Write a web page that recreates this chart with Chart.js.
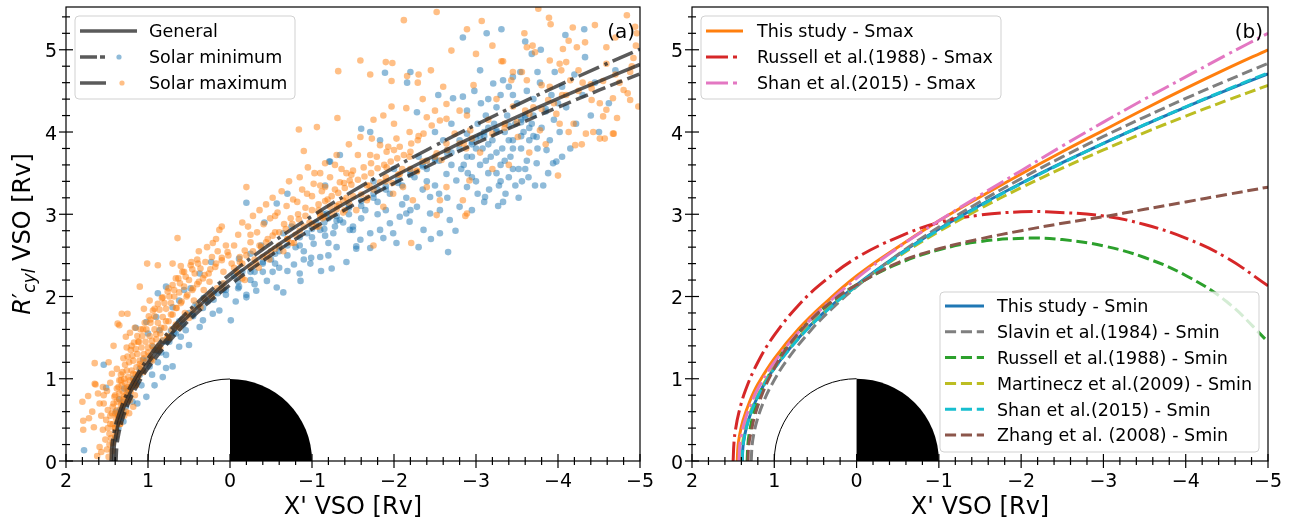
<!DOCTYPE html>
<html>
<head>
<meta charset="utf-8">
<script src="https://cdn.jsdelivr.net/npm/chart.js@4.4.0/dist/chart.umd.min.js"></script>
<style>
  html, body { margin: 0; padding: 0; background: #fff; }
  #wrap { position: relative; width: 1291px; height: 523px; overflow: hidden; }
  #left { position: absolute; left: 0; top: 0; }
  #right { position: absolute; left: 645px; top: 0; }
</style>
</head>
<body>
<div id="wrap">
  <canvas id="left" width="670" height="523"></canvas>
  <canvas id="right" width="646" height="523"></canvas>
</div>
<script>
// ticks
const xTicks = [2, 1, 0, -1, -2, -3, -4, -5];
const yTicks = [0, 1, 2, 3, 4, 5];

// (a) crossings, solar minimum (blue) and solar maximum (orange)
const solarMinPts = [
  [1.78,0.13],[1.54,1.17],[1.51,0.89],[1.39,0.60],[1.40,0.28],[1.36,0.40],[1.30,0.48],[1.33,0.54],[1.27,0.66],[1.35,0.75],
  [1.19,0.72],[1.13,0.70],[1.24,0.80],[1.29,0.88],[1.21,0.90],[1.17,0.95],[1.08,0.92],[1.02,0.78],[1.10,1.05],[0.92,0.92],
  [0.95,1.05],[0.82,1.02],[0.98,1.15],[0.78,1.13],[0.70,1.15],[1.06,1.23],[0.88,1.20],[0.78,1.29],[0.84,1.32],[0.94,1.39],
  [0.62,1.39],[0.50,1.41],[0.74,1.45],[0.60,1.51],[0.66,1.55],[1.00,1.55],[0.54,1.59],[0.86,1.59],[1.15,1.62],[0.37,1.63],
  [1.02,1.69],[0.33,1.71],[0.58,1.72],[0.90,1.75],[0.46,1.78],[0.21,1.79],[0.13,1.83],[0.70,1.87],[0.42,1.90],[0.27,1.94],
  [0.62,1.95],[0.32,1.98],[0.05,2.02],[0.15,2.04],[0.88,2.04],[0.56,2.08],[0.48,2.10],[0.78,2.12],[0.10,2.15],[0.37,2.28],
  [0.23,2.42],[-0.01,1.71],
  [1.38,0.45],[1.34,0.62],[1.30,0.72],[1.24,0.86],[1.18,1.00],[1.10,1.12],[1.02,1.22],[0.92,1.35],[0.82,1.46],[0.72,1.58],
  [0.62,1.70],[0.50,1.80],[0.40,1.88],[0.30,1.96],[0.20,2.04],[0.08,2.08],
  [1.30,0.60],[1.22,0.78],[1.14,0.95],[1.06,1.10],[0.97,1.22],[0.88,1.34],[0.78,1.45],[0.68,1.56],[0.57,1.66],[0.45,1.76],
  [0.33,1.86],[0.20,1.96],[0.05,2.08],[-0.10,2.18],[-0.25,2.30],[-0.40,2.42],[-0.55,2.52],[-0.70,2.62],[-0.85,2.72],[-1.00,2.82],
  [-1.15,2.90],[-1.30,2.98],[-1.45,3.08],[-1.60,3.16],[-1.75,3.25],[-1.90,3.34],[-2.05,3.42],[-2.20,3.52],[-2.35,3.60],[-2.50,3.66],
  [-2.65,3.74],[-2.80,3.80],[-2.95,3.88],[-3.10,3.95],[-3.25,4.02],[-3.40,4.08],[-3.55,4.12],[-3.70,4.20],[-3.85,4.28],[-4.00,4.35],
  [-0.60,2.60],[-1.20,2.95],[-1.80,3.30],[-2.40,3.65],[-3.00,3.92],[-3.60,4.18],
  [-0.07,1.94],[-0.20,2.02],[-0.11,2.12],[-0.11,2.46],[-0.20,1.99],[-0.32,2.07],[-0.45,2.19],[-0.57,2.11],[-0.70,2.31],[-0.78,2.39],
  [-0.86,2.19],[-0.99,2.47],[-1.11,2.31],[-0.94,2.77],[-0.65,2.77],[-1.14,3.00],[-0.70,3.25],[-0.57,3.13],[-0.20,3.14],[-1.21,3.64],
  [-0.85,2.28],[-0.98,2.40],[-1.10,2.48],[-1.24,2.34],[-1.42,2.42],[-1.54,2.58],[-1.02,2.64],[-1.16,2.74],[-1.50,2.81],[-1.34,3.72],
  [-1.22,3.64],[-1.16,3.35],[-0.30,2.30],[-0.40,2.40],[-0.50,2.45],[-0.60,2.55],[-0.38,2.62],[-0.25,2.52],[-0.15,2.30],[-0.05,2.25],
  [-0.80,2.60],[-0.90,2.55],[-1.30,2.60],[-1.38,2.90],[-1.28,2.85],[-0.75,2.85],[-1.05,2.90],[-1.45,3.10],[-0.52,2.30],[-0.65,2.05],
  [-1.20,2.50],[-0.42,2.90],
  [-0.10,2.10],[-0.25,2.20],[-0.40,2.30],[-0.55,2.40],[-0.70,2.50],[-0.85,2.62],[-1.00,2.72],[-1.15,2.82],[-1.30,2.92],[-1.45,3.00],
  [-1.60,3.10],[-1.75,3.20],[-1.90,3.30],[-2.05,3.38],[-2.20,3.48],[-2.35,3.58],[-2.50,3.68],[-2.65,3.78],[-0.30,2.15],[-0.60,2.35],
  [-0.90,2.45],[-1.20,2.65],[-1.50,2.85],[-1.80,3.00],[-2.10,3.12],[-2.40,3.40],[-2.70,3.60],[-2.20,3.05],[-2.55,3.25],
  [-1.60,4.04],[-1.71,4.00],[-1.83,3.90],[-2.20,4.73],[-2.16,4.60],[-1.89,4.72],[-2.84,5.15],[-2.54,4.45],[-2.72,4.41],[-2.84,4.43],
  [-2.89,4.26],[-2.28,4.24],[-1.18,3.01],[-1.34,2.93],[-1.46,2.81],[-1.59,2.69],[-1.71,2.77],[-1.83,2.81],[-1.95,2.89],[-2.07,2.97],
  [-1.99,2.77],[-2.15,3.01],[-2.28,3.09],[-2.44,3.01],[-2.56,3.05],[-2.68,2.93],[-2.44,3.21],[-1.26,2.77],[-1.10,2.81],[-1.54,2.61],
  [-1.71,2.59],[-1.87,2.71],[-2.03,2.65],[-2.19,2.91],[-2.36,2.81],[-2.56,2.77],[-2.80,3.09],[-2.89,3.33],[-2.76,3.41],[-2.64,3.49],
  [-2.82,3.55],[-2.89,3.70],[-2.89,3.98],[-2.80,3.90],[-2.66,2.54],[-1.65,3.05],[-1.80,3.15],[-1.95,3.25],[-2.10,3.35],[-2.25,3.45],
  [-2.40,3.55],[-2.55,3.65],[-2.70,3.75],[-1.75,3.40],[-2.00,3.55],[-2.30,3.70],[-2.60,3.90],[-2.70,4.10],[-2.50,4.00],[-2.35,3.30],
  [-2.50,3.35],[-2.65,3.20],[-2.15,3.20],[-1.90,3.05],[-1.60,2.95],[-2.45,2.70],[-2.30,2.60],[-2.75,2.80],[-2.95,3.05],[-2.95,3.45],
  [-3.13,5.20],[-3.31,5.25],[-3.68,4.95],[-3.79,5.00],[-4.09,5.18],[-4.32,5.25],[-4.33,4.91],[-3.54,4.73],[-3.75,4.73],[-3.96,4.73],
  [-3.21,4.59],[-3.33,4.63],[-3.45,4.67],[-3.74,3.94],[-3.86,3.78],[-3.94,3.62],[-3.98,3.64],[-3.72,3.35],[-3.33,3.15],[-3.27,3.10],
  [-3.11,3.21],[-3.82,3.35],[-3.74,3.62],
  [-3.00,3.40],[-3.05,3.60],[-3.08,3.80],[-3.10,4.00],[-3.12,4.20],[-3.15,3.50],[-3.18,3.70],[-3.20,3.90],[-3.22,4.10],[-3.25,4.30],
  [-3.28,3.35],[-3.30,3.60],[-3.32,3.80],[-3.35,4.00],[-3.38,4.20],[-3.40,3.45],[-3.42,3.70],[-3.45,3.90],[-3.48,4.10],[-3.50,4.35],
  [-3.52,3.55],[-3.55,3.80],[-3.58,4.00],[-3.60,4.20],[-3.62,3.65],[-3.65,3.90],[-3.68,4.10],[-3.70,4.40],[-3.02,3.25],[-3.06,4.35],
  [-3.16,3.30],[-3.36,3.25],[-3.48,3.35],[-3.56,3.40],[-3.64,3.45],[-3.80,4.05],[-3.85,4.25],[-3.90,3.90],[-3.95,4.15],[-4.02,4.00],
  [-4.10,4.30],[-4.15,3.80],[-4.22,4.10],[-4.30,4.45],[-4.40,4.20],[-4.05,4.55],[-3.92,4.45],[-3.78,4.60],[-3.62,4.50],[-3.45,4.45],
  [-3.30,4.45],[-3.15,4.40],[-2.98,4.50],[-3.05,4.75],[-3.60,5.10],[-4.20,4.70],[-4.45,4.60],[-4.50,4.00],[-4.62,4.35],[-4.70,4.75],
  [-3.88,3.50],[-4.05,3.70],[-3.25,3.50],[-3.12,3.65],[-3.40,4.55],[-2.95,3.85],[-3.02,4.10],[-3.10,3.15],[-3.52,3.20],
  [-2.85,3.60],[-2.95,3.70],[-3.05,3.95],[-3.15,3.85],[-3.25,3.75],[-3.35,3.65],[-3.45,3.55],[-3.55,4.15],[-3.65,4.05],[-3.75,3.80],
  [-3.25,4.00],[-3.40,3.90],[-3.55,3.95],[-3.15,4.05],[-2.90,3.50],[-3.00,3.80],[-3.30,3.40],[-3.45,3.80],[-3.60,3.55],[-3.70,3.95]
];
const solarMaxPts = [
  [1.80,0.72],[1.79,0.49],[1.79,0.38],[1.72,0.52],[1.73,0.79],[1.64,0.93],[1.61,0.82],[1.59,0.70],[1.59,0.17],[1.57,0.11],
  [1.62,0.06],[1.55,0.38],[1.51,0.50],[1.49,0.62],[1.52,0.26],[1.50,0.14],[1.47,0.33],[1.46,0.45],[1.44,0.58],[1.42,0.70],
  [1.40,0.80],[1.38,0.62],[1.36,0.90],[1.35,0.75],[1.33,0.98],[1.31,0.85],[1.30,0.70],[1.28,0.95],[1.27,0.60],[1.25,0.82],
  [1.24,1.02],[1.22,0.74],[1.20,0.92],[1.18,0.66],[1.43,0.22],[1.41,0.40],[1.39,0.52],[1.34,0.45],[1.29,0.78],[1.26,0.88],
  [1.23,0.58],[1.55,0.90],[1.50,0.85],[1.46,0.95],[1.68,0.60],[1.66,0.41],[1.57,0.55],[1.54,0.70],[1.65,0.94],[1.54,0.80],
  [1.48,0.05],[1.44,0.12],[1.39,0.35],[1.37,0.48],[1.32,0.62],[1.29,0.55],[1.21,0.85],[1.16,0.80],[1.15,0.92],
  [1.47,0.20],[1.45,0.28],[1.49,0.40],[1.43,0.45],[1.46,0.55],[1.40,0.58],[1.43,0.66],[1.38,0.72],[1.41,0.78],[1.35,0.82],
  [1.38,0.88],[1.32,0.92],[1.35,0.98],[1.29,1.00],[1.31,1.08],[1.26,1.10],[1.28,1.17],[1.23,1.20],[1.25,1.27],[1.19,1.28],
  [1.21,1.35],[1.15,1.36],[1.17,1.44],[1.11,1.45],[1.13,1.52],[1.07,1.52],[1.09,1.60],[1.02,1.60],[1.04,1.68],[0.97,1.68],
  [0.99,1.76],[0.92,1.76],[0.94,1.83],[0.86,1.84],[0.88,1.91],[0.80,1.92],[0.82,1.99],[0.74,2.00],[0.76,2.06],[0.68,2.08],
  [0.70,2.14],[0.61,2.16],[0.63,2.22],[0.54,2.24],[0.56,2.30],[0.46,2.33],[0.48,2.38],[0.39,2.40],
  [1.40,0.30],[1.37,0.55],[1.33,0.68],[1.30,0.75],[1.25,0.90],[1.22,0.98],[1.18,1.06],[1.14,1.14],[1.10,1.22],[1.05,1.30],
  [1.00,1.38],[0.95,1.46],[0.90,1.54],[0.84,1.62],[0.78,1.70],[0.72,1.78],[0.66,1.86],[0.59,1.94],[0.52,2.02],[0.45,2.10],
  [0.38,2.18],[0.31,2.26],[0.24,2.33],[0.17,2.40],[0.10,2.47],[0.03,2.54],
  [1.40,0.40],[1.36,0.55],[1.31,0.68],[1.27,0.80],[1.22,0.88],[1.17,0.97],[1.12,1.05],[1.08,1.15],[1.03,1.20],[0.98,1.28],
  [0.93,1.35],[0.87,1.40],[0.82,1.47],[0.76,1.52],[0.71,1.60],[0.65,1.64],[0.58,1.72],[0.52,1.78],[0.45,1.84],[0.38,1.90],
  [0.31,1.97],[0.24,2.03],[0.16,2.10],[0.08,2.16],[1.34,0.45],[1.25,0.72],[1.15,0.92],[1.06,1.08],[0.96,1.24],[0.85,1.38],
  [0.74,1.50],[0.62,1.62],[0.50,1.74],[0.36,1.87],[0.22,2.00],[0.10,2.10],
  [-0.10,2.28],[-0.25,2.36],[-0.40,2.48],[-0.55,2.58],[-0.70,2.70],[-0.85,2.80],[-1.00,2.88],[-1.15,2.97],[-1.30,3.06],[-1.45,3.14],
  [-1.60,3.24],[-1.75,3.30],[-1.90,3.40],[-2.05,3.48],[-2.20,3.55],[-2.35,3.64],[-2.50,3.70],[-2.65,3.78],[-2.80,3.86],[-2.95,3.92],
  [-0.18,2.20],[-0.48,2.45],[-0.78,2.65],[-1.08,2.85],[-1.38,3.02],[-1.68,3.20],[-1.98,3.38],[-2.28,3.52],[-2.58,3.66],[-2.88,3.80],
  [-3.20,3.98],[-3.50,4.12],[-3.80,4.28],[-4.10,4.45],[-4.40,4.58],[-4.70,4.70],[-4.90,4.80],[-3.35,4.10],[-3.65,4.22],[-3.95,4.35],
  [-4.25,4.50],[-4.55,4.62],
  [1.35,1.65],[1.25,1.79],[1.27,1.51],[1.22,1.56],[1.01,2.40],[0.64,2.71],[0.60,2.37],[0.21,2.65],[0.13,2.81],[1.65,1.19],
  [1.37,1.67],[1.32,1.79],[1.10,2.12],[0.88,2.38],[0.10,2.85],
  [1.20,1.10],[1.18,1.22],[1.15,1.05],[1.13,1.30],[1.10,1.18],[1.08,1.38],[1.05,1.25],[1.03,1.45],[1.00,1.32],[0.98,1.52],
  [0.95,1.40],[0.92,1.60],[0.90,1.48],[0.88,1.68],[0.85,1.55],[0.82,1.75],[0.80,1.62],[0.78,1.85],[0.75,1.70],[0.72,1.92],
  [0.70,1.78],[0.68,2.00],[0.65,1.86],[0.62,2.05],[0.60,1.92],[0.56,2.12],[0.53,2.00],[0.50,2.20],[0.46,2.08],[0.43,2.28],
  [0.40,2.15],[0.36,2.34],[0.33,2.22],[0.30,2.42],[0.26,2.28],[0.22,2.48],[0.18,2.36],[0.15,2.55],[0.10,2.44],[0.05,2.62],
  [0.02,2.50],[1.12,1.45],[1.06,1.60],[0.97,1.72],[0.92,1.85],[0.83,1.98],[0.75,2.10],[0.66,2.22],[0.58,2.30],[0.47,2.42],
  [0.38,2.55],[0.28,2.60],[0.17,2.70],[1.30,1.25],[1.26,1.38],[1.16,1.62],[1.05,1.85],[1.44,1.06],[1.38,1.12],[1.33,1.05],
  [1.17,0.98],[1.12,1.02],[1.08,1.10],[0.95,1.22],[0.87,1.35],[0.76,1.50],[0.66,1.66],[0.55,1.80],[0.44,1.95],[0.32,2.08],
  [1.48,1.20],[1.42,1.40],[1.20,1.40],[0.98,1.95],[0.70,2.40],[0.40,2.45],[0.08,2.30],[0.25,2.18],
  [-0.02,2.40],[-0.05,2.62],[-0.08,2.30],[-0.10,2.75],[-0.12,2.48],[-0.15,2.90],[-0.18,2.56],[-0.20,3.33],[-0.22,2.85],[-0.25,2.66],
  [-0.28,2.98],[-0.30,2.45],[-0.33,2.78],[-0.36,3.05],[-0.38,2.60],[-0.41,2.88],[-0.44,3.12],[-0.46,2.70],[-0.49,2.95],[-0.52,3.20],
  [-0.55,2.78],[-0.58,3.02],[-0.60,2.62],[-0.63,3.28],[-0.66,2.88],[-0.69,3.10],[-0.72,3.40],[-0.74,2.95],[-0.77,3.18],[-0.80,2.75],
  [-0.83,3.00],[-0.85,3.45],[-0.88,3.30],[-0.90,3.77],[-0.92,3.08],[-0.95,3.57],[-0.97,2.90],[-1.00,3.22],[-1.03,3.50],[-1.06,4.06],
  [-0.84,4.03],[-1.08,3.05],[-1.10,3.35],[-1.13,2.95],[-1.16,3.62],[-1.19,3.18],[-1.22,3.45],[-1.25,3.00],[-1.28,3.30],[-1.30,3.72],
  [-1.33,3.12],[-1.36,3.55],[-1.39,3.38],[-1.42,3.20],[-1.45,3.85],[-1.48,3.48],[-0.35,2.35],[-0.65,2.55],[-1.05,2.85],[-1.40,3.05],
  [-1.31,4.17],[-0.94,3.25],[-1.02,3.37],[-1.16,3.33],[-1.34,3.39],[-1.28,3.60],[-1.10,3.50],[-1.22,3.09],[-1.10,3.01],[-1.38,3.17],
  [-0.15,2.40],[-0.45,2.50],[-0.75,2.65],
  [-0.05,2.35],[-0.12,2.42],[-0.20,2.50],[-0.28,2.55],[-0.36,2.62],[-0.44,2.66],[-0.52,2.74],[-0.60,2.78],[-0.68,2.82],[-0.76,2.88],
  [-0.84,2.94],[-0.92,2.98],[-1.00,3.05],[-1.08,3.12],[-1.16,3.16],[-1.24,3.22],[-1.32,3.26],[-1.40,3.32],[-1.48,3.36],[-1.56,3.42],
  [-1.64,3.46],[-1.72,3.50],[-1.80,3.56],[-1.88,3.60],[-1.96,3.64],[-2.04,3.68],[-2.12,3.72],[-2.20,3.76],[-0.15,2.22],[-0.32,2.40],
  [-0.50,2.55],[-0.70,2.70],[-0.90,2.85],[-1.10,2.98],[-1.30,3.10],[-1.50,3.22],[-1.70,3.35],[-1.90,3.45],[-2.10,3.55],[-0.25,2.75],
  [-0.55,2.98],[-0.82,3.15],[-1.12,3.28],[-1.42,3.50],[-1.72,3.62],[-2.00,3.78],[-2.30,3.95],
  [-1.59,4.87],[-1.32,4.74],[-1.71,4.70],[-1.90,4.85],[-1.98,4.84],[-1.97,4.62],[-2.16,4.68],[-2.30,4.70],[-2.29,4.60],[-2.52,5.46],
  [-2.12,5.36],[-2.70,4.99],[-2.89,5.25],[-1.97,4.31],[-1.87,4.20],[-2.15,4.29],[-2.40,4.18],[-2.50,4.26],[-2.64,4.34],[-2.80,4.26],
  [-2.89,4.20],[-2.64,4.16],[-1.59,3.94],[-1.73,3.92],[-1.83,3.84],[-1.93,3.82],[-2.03,3.92],[-2.19,4.00],[-2.29,3.90],[-1.56,3.72],
  [-1.71,3.72],[-1.50,3.53],[-1.63,3.57],[-1.79,3.70],[-1.91,3.76],[-2.07,3.82],[-2.21,3.86],[-2.36,3.98],[-2.46,4.08],[-2.56,4.14],
  [-1.91,3.57],[-2.07,3.49],[-2.19,3.70],[-2.28,3.53],[-2.40,3.65],[-2.52,3.74],[-2.64,3.86],[-2.74,3.98],[-1.46,3.41],[-1.67,3.35],
  [-1.83,3.39],[-1.99,3.25],[-2.11,3.33],[-2.23,3.17],[-2.40,3.33],[-2.56,3.17],[-1.87,3.09],[-1.67,3.17],[-1.54,3.05],[-2.64,3.33],
  [-2.84,3.17],[-2.89,3.01],[-2.21,2.65],[-1.75,2.62],[-2.52,2.99],[-2.87,2.98],[-2.97,4.57],[-2.93,4.02],[-2.85,3.86],[-2.92,3.41],
  [-2.00,4.10],[-2.35,4.40],[-1.75,4.15],[-2.60,4.55],[-2.45,4.75],
  [-3.07,5.35],[-3.31,4.86],[-3.59,5.20],[-3.69,5.05],[-3.76,5.50],[-3.89,5.39],[-3.91,5.31],[-4.18,5.27],[-4.13,5.11],[-4.33,5.09],
  [-4.23,5.03],[-4.06,5.01],[-4.10,4.85],[-4.59,5.03],[-4.84,5.42],[-4.94,5.28],[-4.59,4.83],[-4.88,4.73],[-4.02,4.83],[-3.90,4.87],
  [-3.62,5.03],[-3.72,4.97],[-3.33,4.86],[-3.45,4.73],[-3.56,4.73],[-3.62,4.63],[-3.80,4.57],[-3.90,4.55],[-4.04,4.75],[-4.15,4.63],
  [-4.25,4.75],[-4.41,4.53],[-4.41,4.39],[-4.51,4.35],[-4.59,4.27],[-4.67,4.41],[-4.80,4.51],[-4.88,4.39],[-4.98,4.31],[-4.55,4.19],
  [-4.67,3.98],[-4.51,3.92],[-4.34,3.98],[-4.21,3.84],[-4.00,3.47],[-3.43,4.63],[-4.19,4.10],[-4.02,4.10],[-4.13,4.00],[-3.78,4.02],
  [-3.88,4.39],[-3.98,4.22],[-3.60,4.26],[-3.45,4.31],[-3.51,3.94],[-4.96,5.20],[-4.85,4.47],[-4.72,4.17],[-4.68,3.98],[-4.57,3.92],
  [-4.43,4.00],[-4.29,3.85],[-3.25,4.40],[-3.15,4.15],[-3.35,4.05],[-3.70,4.30],[-3.05,3.75],[-3.20,3.55],[-3.40,3.60],[-3.65,3.75],
  [-3.85,3.85],[-4.05,4.45],[-4.30,4.60],[-4.75,4.60],[-4.92,4.90],[-4.70,5.15],[-3.00,4.95],[-3.20,5.05],[-4.45,5.30],[-4.95,5.05]
];

// (a) fitted bow shock curves
const generalX = [1.42, 1.41, 1.39, 1.35, 1.27, 1.17, 1.00, 0.70, 0.40, 0, -0.5, -1, -1.5, -2, -2.5, -3, -3.5, -4, -4.5, -5];
const generalY = [0, 0.198, 0.326, 0.491, 0.715, 0.921, 1.193, 1.564, 1.864, 2.204, 2.570, 2.894, 3.188, 3.460, 3.715, 3.956, 4.185, 4.405, 4.617, 4.821];
const minFitX = [1.45, 1.44, 1.42, 1.38, 1.30, 1.20, 1.00, 0.70, 0.40, 0, -0.5, -1, -1.5, -2, -2.5, -3, -3.5, -4, -4.5, -5];
const minFitY = [0, 0.186, 0.322, 0.492, 0.721, 0.932, 1.252, 1.622, 1.924, 2.270, 2.645, 2.978, 3.283, 3.567, 3.834, 4.088, 4.330, 4.564, 4.789, 5.008];
const maxFitX = [1.39, 1.38, 1.36, 1.32, 1.24, 1.14, 1.00, 0.70, 0.40, 0, -0.5, -1, -1.5, -2, -2.5, -3, -3.5, -4, -4.5, -5];
const maxFitY = [0, 0.180, 0.312, 0.477, 0.699, 0.902, 1.128, 1.502, 1.803, 2.140, 2.502, 2.821, 3.110, 3.377, 3.627, 3.863, 4.087, 4.302, 4.508, 4.708];

// (b) model comparison
const thisMaxX = [1.45, 1.44, 1.42, 1.38, 1.30, 1.20, 1.00, 0.70, 0.40, 0, -0.5, -1, -1.5, -2, -2.5, -3, -3.5, -4, -4.5, -5];
const thisMaxY = [0, 0.186, 0.322, 0.492, 0.721, 0.932, 1.245, 1.610, 1.905, 2.250, 2.600, 2.920, 3.210, 3.490, 3.760, 4.020, 4.280, 4.530, 4.770, 5.000];
const russellMaxX = [1.50, 1.49, 1.47, 1.43, 1.35, 1.20, 1.00, 0.70, 0.40, 0, -0.5, -1, -1.5, -2, -2.3, -3, -3.5, -4, -4.5, -5];
const russellMaxY = [0, 0.22, 0.39, 0.59, 0.86, 1.20, 1.53, 1.90, 2.18, 2.47, 2.72, 2.90, 2.99, 3.03, 3.03, 2.98, 2.875, 2.71, 2.47, 2.13];
const shanMaxX = [1.43, 1.42, 1.40, 1.36, 1.28, 1.18, 1.00, 0.70, 0.40, 0, -0.5, -1, -1.5, -2, -2.5, -3, -3.5, -4, -4.5, -5];
const shanMaxY = [0, 0.180, 0.314, 0.481, 0.706, 0.914, 1.200, 1.570, 1.872, 2.220, 2.590, 2.920, 3.230, 3.530, 3.830, 4.120, 4.400, 4.670, 4.940, 5.200];
const thisMinX = [1.39, 1.38, 1.36, 1.32, 1.24, 1.14, 1.00, 0.70, 0.40, 0, -0.5, -1, -1.5, -2, -2.5, -3, -3.5, -4, -4.5, -5];
const thisMinY = [0, 0.180, 0.312, 0.477, 0.699, 0.902, 1.128, 1.502, 1.803, 2.140, 2.502, 2.821, 3.110, 3.377, 3.627, 3.863, 4.087, 4.302, 4.508, 4.708];
const slavinX = [1.28, 1.27, 1.25, 1.21, 1.13, 1.03, 0.85, 0.55, 0.30, 0, -0.5, -1, -1.5, -2, -2.5, -3, -3.5, -4, -4.5, -5];
const slavinY = [0, 0.186, 0.322, 0.492, 0.721, 0.931, 1.222, 1.596, 1.851, 2.120, 2.507, 2.846, 3.152, 3.434, 3.697, 3.946, 4.182, 4.408, 4.625, 4.835];
const russellMinX = [1.33, 1.32, 1.30, 1.26, 1.18, 1.05, 0.85, 0.55, 0.25, 0, -0.5, -1, -1.5, -2.1, -2.5, -3, -3.5, -4, -4.5, -5];
const russellMinY = [0, 0.207, 0.358, 0.545, 0.793, 1.072, 1.383, 1.721, 1.974, 2.143, 2.397, 2.567, 2.668, 2.710, 2.692, 2.615, 2.474, 2.256, 1.936, 1.450];
const martineczX = [1.40, 1.39, 1.37, 1.33, 1.25, 1.15, 1.00, 0.70, 0.40, 0, -0.5, -1, -1.5, -2, -2.5, -3, -3.5, -4, -4.5, -5];
const martineczY = [0, 0.177, 0.310, 0.475, 0.696, 0.899, 1.137, 1.505, 1.799, 2.129, 2.482, 2.790, 3.068, 3.323, 3.560, 3.782, 3.993, 4.193, 4.384, 4.567];
const shanMinX = [1.391, 1.38, 1.36, 1.32, 1.24, 1.14, 1.00, 0.70, 0.40, 0, -0.5, -1, -1.5, -2, -2.5, -3, -3.5, -4, -4.5, -5];
const shanMinY = [0, 0.190, 0.317, 0.478, 0.696, 0.898, 1.122, 1.494, 1.793, 2.130, 2.492, 2.812, 3.102, 3.371, 3.623, 3.861, 4.089, 4.306, 4.516, 4.719];
const zhangX = [1.32, 1.31, 1.28, 1.24, 1.16, 1.04, 0.85, 0.55, 0.25, 0, -0.5, -1, -1.5, -2, -2.5, -3, -3.5, -4, -4.5, -5];
const zhangY = [0, 0.20, 0.36, 0.54, 0.78, 1.05, 1.37, 1.72, 1.98, 2.14, 2.41, 2.58, 2.70, 2.80, 2.89, 2.97, 3.06, 3.15, 3.24, 3.33];

const FONT = '"DejaVu Sans", sans-serif';
const dashed = [11.1, 4.8];
const dashDot = [19.2, 4.8, 3, 4.8];
const darkLine = 'rgba(35,35,35,0.75)';
const minDot = 'rgba(31,119,180,0.5)';
const maxDot = 'rgba(255,127,14,0.5)';

const toPts = (xs, ys) => xs.map((x, i) => ({ x: x, y: ys[i] }));
const toObj = arr => arr.map(p => ({ x: p[0], y: p[1] }));
const fmt = v => (v < 0 ? '\u2212' + Math.abs(v) : String(v));

function curve(label, xs, ys, color, width, dash, order) {
    return {
        label: label, data: toPts(xs, ys), showLine: true,
        borderColor: color, backgroundColor: color, borderWidth: width,
        borderDash: dash, borderCapStyle: 'butt', tension: 0.4,
        pointRadius: 0, pointHoverRadius: 0, fill: false, order: order
    };
}

function roundBox(ctx, x, y, w, h, r) {
    ctx.beginPath();
    ctx.moveTo(x + r, y);
    ctx.lineTo(x + w - r, y); ctx.arcTo(x + w, y, x + w, y + r, r);
    ctx.lineTo(x + w, y + h - r); ctx.arcTo(x + w, y + h, x + w - r, y + h, r);
    ctx.lineTo(x + r, y + h); ctx.arcTo(x, y + h, x, y + h - r, r);
    ctx.lineTo(x, y + r); ctx.arcTo(x, y, x + r, y, r);
    ctx.closePath();
}

function drawLegend(ctx, a, lg) {
    const x = lg.anchor === 'br' ? a.right - lg.dx - lg.w : a.left + lg.dx;
    const y = lg.anchor === 'br' ? a.bottom - lg.dy - lg.h : a.top + lg.dy;
    ctx.save();
    roundBox(ctx, x, y, lg.w, lg.h, 4);
    ctx.fillStyle = 'rgba(255,255,255,0.8)';
    ctx.fill();
    ctx.strokeStyle = 'rgba(204,204,204,0.9)';
    ctx.lineWidth = 1;
    ctx.stroke();
    lg.rows.forEach((row, i) => {
        const cy = y + lg.first + i * lg.step;
        ctx.save();
        ctx.strokeStyle = row.color;
        ctx.lineWidth = row.width;
        ctx.lineCap = 'butt';
        ctx.setLineDash(row.dash || []);
        ctx.beginPath();
        ctx.moveTo(x + lg.hx, cy);
        ctx.lineTo(x + lg.hx + row.len, cy);
        ctx.stroke();
        ctx.restore();
        if (row.marker) {
            ctx.beginPath();
            ctx.arc(x + row.mx, cy, 2.6, 0, Math.PI * 2);
            ctx.fillStyle = row.marker;
            ctx.fill();
        }
        ctx.fillStyle = '#000';
        ctx.font = '17.5px ' + FONT;
        ctx.textAlign = 'left';
        ctx.textBaseline = 'alphabetic';
        ctx.fillText(row.label, x + lg.tx, cy + 6.4);
    });
    ctx.restore();
}

const panelDecor = {
    id: 'panelDecor',
    beforeDatasetsDraw(chart) {
        // Venus: dayside white, nightside black
        const { ctx, chartArea: a, scales: { x, y } } = chart;
        const cx = x.getPixelForValue(0), cy = y.getPixelForValue(0);
        const r = Math.abs(x.getPixelForValue(1) - cx);
        ctx.save();
        ctx.beginPath();
        ctx.rect(a.left, a.top, a.right - a.left, a.bottom - a.top);
        ctx.clip();
        ctx.beginPath();
        ctx.moveTo(cx, cy);
        ctx.arc(cx, cy, r, Math.PI, 1.5 * Math.PI);
        ctx.closePath();
        ctx.fillStyle = '#fff';
        ctx.fill();
        ctx.beginPath();
        ctx.arc(cx, cy, r, Math.PI, 1.5 * Math.PI);
        ctx.strokeStyle = '#000';
        ctx.lineWidth = 1;
        ctx.stroke();
        ctx.beginPath();
        ctx.moveTo(cx, cy);
        ctx.arc(cx, cy, r, 1.5 * Math.PI, 2 * Math.PI);
        ctx.closePath();
        ctx.fillStyle = '#000';
        ctx.fill();
        ctx.restore();
    },
    afterDatasetsDraw(chart, args, opts) {
        const { ctx, chartArea: a } = chart;
        opts.legends.forEach(lg => drawLegend(ctx, a, lg));
        ctx.save();
        ctx.fillStyle = '#000';
        ctx.font = '20px ' + FONT;
        ctx.textAlign = 'right';
        ctx.fillText(opts.tag, a.right - 5, a.top + 31);
        ctx.restore();
    },
    afterDraw(chart, args, opts) {
        const { ctx, chartArea: a, scales: { x, y } } = chart;
        ctx.save();
        ctx.strokeStyle = '#000';
        ctx.lineWidth = 1.2;
        ctx.strokeRect(a.left, a.top, a.right - a.left, a.bottom - a.top);
        // minor ticks every 0.2
        for (let k = -25; k <= 10; k++) {
            if (k % 5 === 0) continue;
            const px = x.getPixelForValue(k / 5);
            ctx.beginPath(); ctx.moveTo(px, a.bottom - 4); ctx.lineTo(px, a.bottom + 4); ctx.stroke();
        }
        for (let k = 1; k <= 27; k++) {
            if (k % 5 === 0) continue;
            const py = y.getPixelForValue(k / 5);
            ctx.beginPath(); ctx.moveTo(a.left - 4, py); ctx.lineTo(a.left + 4, py); ctx.stroke();
        }
        ctx.font = '19px ' + FONT;
        ctx.fillStyle = '#000';
        ctx.textAlign = 'center';
        xTicks.forEach(v => {
            const px = x.getPixelForValue(v);
            ctx.beginPath(); ctx.moveTo(px, a.bottom - 7); ctx.lineTo(px, a.bottom + 7); ctx.stroke();
            ctx.fillText(fmt(v), px, a.bottom + 26);
        });
        ctx.textAlign = 'right';
        yTicks.forEach(v => {
            const py = y.getPixelForValue(v);
            ctx.beginPath(); ctx.moveTo(a.left - 7, py); ctx.lineTo(a.left + 7, py); ctx.stroke();
            ctx.fillText(fmt(v), a.left - 9, py + 7.5);
        });
        // axis titles
        ctx.font = '24px ' + FONT;
        ctx.textAlign = 'center';
        ctx.fillText("X' VSO [Rv]", (a.left + a.right) / 2, a.bottom + 53);
        if (opts.yTitle) {
            const parts = [
                { t: 'R', f: 'italic 24px ' + FONT, dy: 0 },
                { t: '\u2032', f: '24px ' + FONT, dy: 0 },
                { t: 'cyl', f: 'italic 17px ' + FONT, dy: 5 },
                { t: ' VSO [Rv]', f: '24px ' + FONT, dy: 0 }
            ];
            let total = 0;
            parts.forEach(p => { ctx.font = p.f; p.w = ctx.measureText(p.t).width; total += p.w; });
            ctx.translate(a.left - 36.5, (a.top + a.bottom) / 2);
            ctx.rotate(-Math.PI / 2);
            ctx.textAlign = 'left';
            let cx = -total / 2;
            parts.forEach(p => { ctx.font = p.f; ctx.fillText(p.t, cx, p.dy); cx += p.w; });
        }
        ctx.restore();
    }
};

function baseOptions(pad, decor) {
    return {
        responsive: false,
        animation: false,
        devicePixelRatio: 1,
        layout: { padding: pad },
        events: [],
        plugins: { legend: { display: false }, tooltip: { enabled: false }, panelDecor: decor },
        scales: {
            x: { type: 'linear', min: -5, max: 2, reverse: true, display: false },
            y: { type: 'linear', min: 0, max: 5.52, display: false }
        }
    };
}

// panel (a)
const leftChart = new Chart(document.getElementById('left'), {
    type: 'scatter',
    data: {
        datasets: [
            curve('General', generalX, generalY, darkLine, 3.5, [], 1),
            curve('Solar minimum fit', minFitX, minFitY, darkLine, 3.5, [22.4, 5.6, 3.5, 5.6], 2),
            curve('Solar maximum fit', maxFitX, maxFitY, darkLine, 3.5, [12.9, 5.6], 3),
            { label: 'Solar maximum', data: toObj(solarMaxPts), backgroundColor: maxDot, borderWidth: 0, pointRadius: 3.3, order: 4 },
            { label: 'Solar minimum', data: toObj(solarMinPts), backgroundColor: minDot, borderWidth: 0, pointRadius: 3.3, order: 5 }
        ]
    },
    options: baseOptions({ left: 66, right: 30, top: 7, bottom: 62 }, {
        tag: '(a)', yTitle: true,
        legends: [{
            anchor: 'tl', dx: 9, dy: 9, w: 220, h: 83, first: 15, step: 26, hx: 5, tx: 74,
            rows: [
                { label: 'General', color: darkLine, width: 3.5, len: 57 },
                { label: 'Solar minimum', color: darkLine, width: 3.5, len: 25, dash: [17, 3, 5, 20], marker: minDot, mx: 44 },
                { label: 'Solar maximum', color: darkLine, width: 3.5, len: 26, marker: maxDot, mx: 47 }
            ]
        }]
    }),
    plugins: [panelDecor]
});

// panel (b)
const cThisMax = '#ff7f0e', cRussMax = '#d62728', cShanMax = '#e377c2';
const cThisMin = '#1f77b4', cSlavin = '#7f7f7f', cRussMin = '#2ca02c', cMart = '#bcbd22', cShanMin = '#17becf', cZhang = '#8c564b';
const rightChart = new Chart(document.getElementById('right'), {
    type: 'scatter',
    data: {
        datasets: [
            curve('This study - Smin', thisMinX, thisMinY, cThisMin, 3, [], 9),
            curve('This study - Smax', thisMaxX, thisMaxY, cThisMax, 3, [], 8),
            curve('Slavin et al.(1984) - Smin', slavinX, slavinY, cSlavin, 3, dashed, 7),
            curve('Russell et al.(1988) - Smin', russellMinX, russellMinY, cRussMin, 3, dashed, 6),
            curve('Russell et al.(1988) - Smax', russellMaxX, russellMaxY, cRussMax, 3, dashDot, 5),
            curve('Martinecz et al.(2009) - Smin', martineczX, martineczY, cMart, 3, dashed, 4),
            curve('Shan et al.(2015) - Smin', shanMinX, shanMinY, cShanMin, 3, dashed, 3),
            curve('Shan et al.(2015) - Smax', shanMaxX, shanMaxY, cShanMax, 3, dashDot, 2),
            curve('Zhang et al. (2008) - Smin', zhangX, zhangY, cZhang, 3, dashed, 1)
        ]
    },
    options: baseOptions({ left: 47, right: 23, top: 7, bottom: 62 }, {
        tag: '(b)', yTitle: false,
        legends: [
            {
                anchor: 'tl', dx: 9, dy: 9, w: 300, h: 83, first: 15, step: 26, hx: 5, tx: 56,
                rows: [
                    { label: 'This study - Smax', color: cThisMax, width: 3, len: 37 },
                    { label: 'Russell et al.(1988) - Smax', color: cRussMax, width: 3, len: 37, dash: [22, 5, 4, 20] },
                    { label: 'Shan et al.(2015) - Smax', color: cShanMax, width: 3, len: 37, dash: [22, 5, 4, 20] }
                ]
            },
            {
                anchor: 'br', dx: 9, dy: 9, w: 319, h: 160, first: 14, step: 25.8, hx: 5, tx: 57,
                rows: [
                    { label: 'This study - Smin', color: cThisMin, width: 3, len: 39 },
                    { label: 'Slavin et al.(1984) - Smin', color: cSlavin, width: 3, len: 39, dash: dashed },
                    { label: 'Russell et al.(1988) - Smin', color: cRussMin, width: 3, len: 39, dash: dashed },
                    { label: 'Martinecz et al.(2009) - Smin', color: cMart, width: 3, len: 39, dash: dashed },
                    { label: 'Shan et al.(2015) - Smin', color: cShanMin, width: 3, len: 39, dash: dashed },
                    { label: 'Zhang et al. (2008) - Smin', color: cZhang, width: 3, len: 39, dash: dashed }
                ]
            }
        ]
    }),
    plugins: [panelDecor]
});
</script>
</body>
</html>
